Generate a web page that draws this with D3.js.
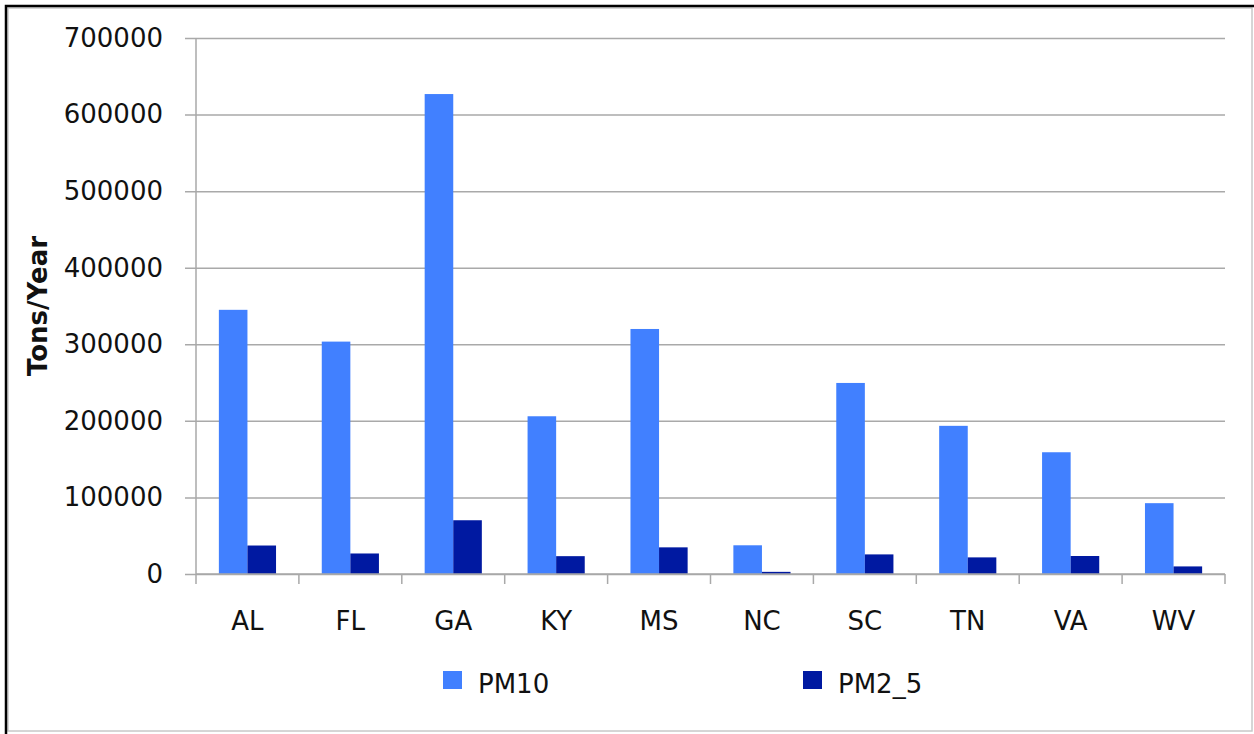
<!DOCTYPE html>
<html>
<head>
<meta charset="utf-8">
<script src="https://cdn.jsdelivr.net/npm/d3@7"></script>
<style>
  body { margin: 0; background: #fff; }
  text { font-family: "DejaVu Sans", sans-serif; fill: #111; }
</style>
</head>
<body>
<div class="plot"></div>
<script>
// data
var states = ["AL", "FL", "GA", "KY", "MS", "NC", "SC", "TN", "VA", "WV"];
var pm10 = [345000, 303500, 626800, 206000, 320000, 37500, 249500, 193500, 159000, 92500];
var pm25 = [37200, 26800, 70200, 23300, 34800, 2800, 25600, 21700, 23500, 9900];
var seriesNames = ["PM10", "PM2_5"];
var seriesColors = ["#4180ff", "#0019a1"];
var yTicks = [0, 100000, 200000, 300000, 400000, 500000, 600000, 700000];

var svgWidth = 1254;
var svgHeight = 734;

var margin = { top: 38, right: 29, bottom: 160, left: 196 };
var width = svgWidth - margin.left - margin.right;
var height = svgHeight - margin.top - margin.bottom;

var svg = d3.select(".plot")
    .append("svg")
    .attr("width", svgWidth)
    .attr("height", svgHeight);

// frame round the screenshot
svg.append("rect")
    .attr("x", 8).attr("y", 8)
    .attr("width", 1244).attr("height", 723)
    .attr("fill", "none")
    .attr("stroke", "#c8c8c8")
    .attr("stroke-width", 1.5);
svg.append("path")
    .attr("d", "M6,734 V6 H1254")
    .attr("fill", "none")
    .attr("stroke", "#000")
    .attr("stroke-width", 2.5);

var chartGroup = svg.append("g")
    .attr("transform", `translate(${margin.left}, ${margin.top})`);

// scales
var x0 = d3.scaleBand()
    .domain(states)
    .range([0, width]);

var x1 = d3.scaleBand()
    .domain(seriesNames)
    .range([0, x0.bandwidth()])
    .paddingInner(0)
    .paddingOuter(0.8);

var yScale = d3.scaleLinear()
    .domain([0, 700000])
    .range([height, 0]);

// gridlines + left axis
var yAxis = d3.axisLeft(yScale)
    .tickValues(yTicks)
    .tickSize(-width)
    .tickSizeOuter(0)
    .tickPadding(33)
    .tickFormat(d3.format("d"));

var yG = chartGroup.append("g").call(yAxis);
yG.select(".domain").remove();
yG.selectAll(".tick line")
    .attr("x1", -11)
    .attr("stroke", "#a9a9a9")
    .attr("stroke-width", 1.5);
yG.selectAll(".tick text")
    .attr("font-size", "26px")
    .attr("font-family", "DejaVu Sans, sans-serif")
    .attr("fill", "#111");

chartGroup.append("line")
    .attr("x1", 0).attr("x2", 0)
    .attr("y1", 0).attr("y2", height)
    .attr("stroke", "#a9a9a9")
    .attr("stroke-width", 1.5);

// bars
var rows = states.map(function (s, i) {
    return { state: s, values: [pm10[i], pm25[i]] };
});

var groups = chartGroup.selectAll(".state")
    .data(rows)
    .enter()
    .append("g")
    .attr("transform", d => `translate(${x0(d.state)}, 0)`);

groups.selectAll("rect")
    .data(d => d.values.map((v, j) => ({ name: seriesNames[j], value: v, color: seriesColors[j] })))
    .enter()
    .append("rect")
    .attr("x", d => x1(d.name))
    .attr("width", x1.bandwidth())
    .attr("y", d => yScale(d.value))
    .attr("height", d => height - yScale(d.value))
    .attr("fill", d => d.color);

// bottom axis with ticks between categories
var boundaries = states.map(s => x0(s)).concat([width]);
var xG = chartGroup.append("g")
    .attr("transform", `translate(0, ${height})`);
xG.append("line")
    .attr("x1", 0).attr("x2", width)
    .attr("stroke", "#a9a9a9")
    .attr("stroke-width", 1.5);
xG.selectAll(".btick")
    .data(boundaries)
    .enter()
    .append("line")
    .attr("x1", d => d).attr("x2", d => d)
    .attr("y1", 0).attr("y2", 10)
    .attr("stroke", "#a9a9a9")
    .attr("stroke-width", 1.5);
xG.selectAll(".lbl")
    .data(states)
    .enter()
    .append("text")
    .attr("x", d => x0(d) + x0.bandwidth() / 2)
    .attr("y", 56)
    .attr("text-anchor", "middle")
    .attr("font-size", "26px")
    .text(d => d);

// y title
svg.append("text")
    .attr("transform", "translate(47, 306) rotate(-90)")
    .attr("text-anchor", "middle")
    .attr("font-size", "26px")
    .attr("font-weight", "bold")
    .text("Tons/Year");

// legend
var legendX = [443, 803];
var legend = svg.selectAll(".legend")
    .data(seriesNames)
    .enter()
    .append("g")
    .attr("transform", (d, i) => `translate(${legendX[i]}, 671)`);
legend.append("rect")
    .attr("width", 19).attr("height", 18)
    .attr("fill", (d, i) => seriesColors[i]);
legend.append("text")
    .attr("x", 35)
    .attr("y", 22)
    .attr("font-size", "26px")
    .text(d => d);
</script>
</body>
</html>
